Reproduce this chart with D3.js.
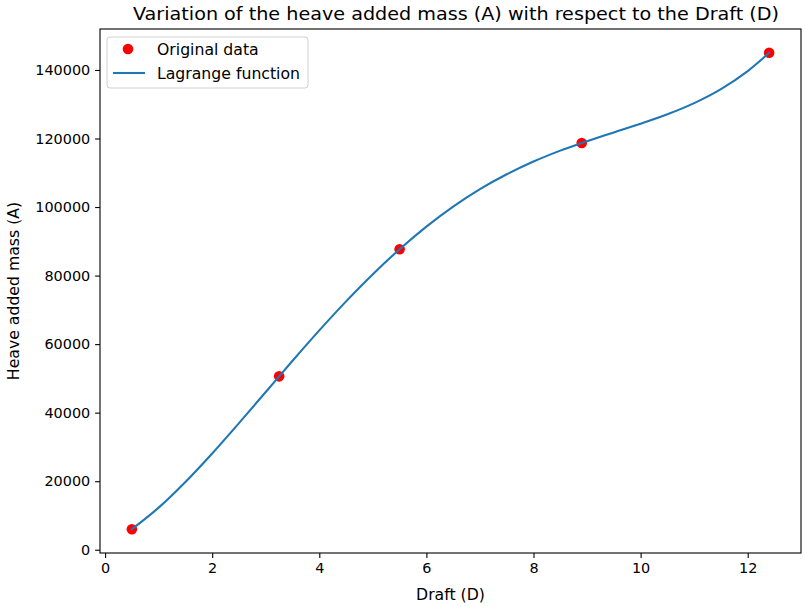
<!DOCTYPE html>
<html>
<head>
<meta charset="utf-8">
<script src="https://cdn.jsdelivr.net/npm/d3@7"></script>
<style>
  html, body { margin: 0; padding: 0; background: #fff; }
  svg { display: block; }
  text { font-family: "DejaVu Sans", sans-serif; fill: #000; }
</style>
</head>
<body>
<svg id="chart" width="805" height="607"></svg>
<script>
// Measured drafts and heave added masses
const draft = [0.5, 3.25, 5.5, 8.9, 12.4];
const addedMass = [6000, 50600, 87700, 118700, 145000];

// Lagrange interpolating curve, sampled along the draft range
const curveDraft = [0.5, 1, 1.5, 2, 2.5, 3, 3.25, 3.5, 4, 4.5, 5, 5.5, 6, 6.5, 7, 7.5,
                    8, 8.5, 8.9, 9, 9.5, 10, 10.5, 11, 11.5, 12, 12.4];
const curveMass = [6000, 12290, 19780, 28100, 36950, 46040, 50600, 55130, 64000, 72470,
                   80400, 87700, 94280, 100110, 105200, 109560, 113280, 116460, 118700,
                   119230, 121780, 124310, 127060, 130330, 134420, 139680, 145000];

const xTicks = [0, 2, 4, 6, 8, 10, 12];
const yTicks = [0, 20000, 40000, 60000, 80000, 100000, 120000, 140000];

const titleText = "Variation of the heave added mass (A) with respect to the Draft (D)";
const xLabel = "Draft (D)";
const yLabel = "Heave added mass (A)";
const legendLabels = ["Original data", "Lagrange function"];

const W = 805, H = 607;
const plot = { left: 100, right: 801, top: 29, bottom: 553 };

const svg = d3.select("#chart");

// Matplotlib-style 5% data margins
function padded(vals) {
  const [a, b] = d3.extent(vals);
  const m = (b - a) * 0.05;
  return [a - m, b + m];
}

const x = d3.scaleLinear().domain(padded(draft)).range([plot.left, plot.right]);
const y = d3.scaleLinear().domain(padded(addedMass)).range([plot.bottom, plot.top]);

const tickFont = 14.4;
const labelFont = 15.7;

// Axes
const xAxis = d3.axisBottom(x).tickValues(xTicks).tickSize(4.9).tickPadding(4.9).tickFormat(d3.format("d"));
const yAxis = d3.axisLeft(y).tickValues(yTicks).tickSize(4.9).tickPadding(4.9).tickFormat(d3.format("d"));

const gx = svg.append("g").attr("transform", `translate(0,${plot.bottom})`).call(xAxis);
const gy = svg.append("g").attr("transform", `translate(${plot.left},0)`).call(yAxis);
[gx, gy].forEach(g => {
  g.select(".domain").remove();
  g.selectAll(".tick line").attr("stroke", "#000").attr("stroke-width", 1.1);
  g.selectAll(".tick text").attr("font-size", tickFont).attr("font-family", "DejaVu Sans").attr("fill", "#000");
});

// Scatter of measured data
svg.append("g").selectAll("circle")
  .data(draft.map((d, i) => [d, addedMass[i]]))
  .join("circle")
  .attr("cx", d => x(d[0]))
  .attr("cy", d => y(d[1]))
  .attr("r", 5.3)
  .attr("fill", "#ff0000");

// Interpolating curve
const line = d3.line()
  .x(d => x(d[0]))
  .y(d => y(d[1]))
  .curve(d3.curveCatmullRom.alpha(0.5));

svg.append("path")
  .datum(curveDraft.map((d, i) => [d, curveMass[i]]))
  .attr("d", line)
  .attr("fill", "none")
  .attr("stroke", "#1f77b4")
  .attr("stroke-width", 2.1)
  .attr("stroke-linecap", "square");

// Frame
svg.append("rect")
  .attr("x", plot.left).attr("y", plot.top)
  .attr("width", plot.right - plot.left).attr("height", plot.bottom - plot.top)
  .attr("fill", "none").attr("stroke", "#000").attr("stroke-width", 1.1);

// Title and axis labels
svg.append("text")
  .attr("x", 456).attr("y", 20)
  .attr("text-anchor", "middle").attr("font-size", 18.5)
  .attr("textLength", 646).attr("lengthAdjust", "spacingAndGlyphs")
  .text(titleText);

svg.append("text")
  .attr("x", (plot.left + plot.right) / 2).attr("y", 600)
  .attr("text-anchor", "middle").attr("font-size", labelFont)
  .text(xLabel);

svg.append("text")
  .attr("transform", `translate(19,${(plot.top + plot.bottom) / 2}) rotate(-90)`)
  .attr("text-anchor", "middle").attr("font-size", labelFont)
  .text(yLabel);

// Legend
const lg = svg.append("g").attr("transform", "translate(107,37)");
lg.append("rect")
  .attr("x", 0).attr("y", 0).attr("width", 201).attr("height", 51)
  .attr("rx", 3).attr("fill", "#fff").attr("fill-opacity", 0.8)
  .attr("stroke", "#d0d0d0").attr("stroke-width", 1);
lg.append("circle").attr("cx", 21).attr("cy", 12).attr("r", 5.3).attr("fill", "#ff0000");
lg.append("line").attr("x1", 6).attr("x2", 38).attr("y1", 36).attr("y2", 36)
  .attr("stroke", "#1f77b4").attr("stroke-width", 2.1);
lg.append("text").attr("x", 50).attr("y", 17.5).attr("font-size", labelFont).text(legendLabels[0]);
lg.append("text").attr("x", 50).attr("y", 41.5).attr("font-size", labelFont).text(legendLabels[1]);
</script>
</body>
</html>
